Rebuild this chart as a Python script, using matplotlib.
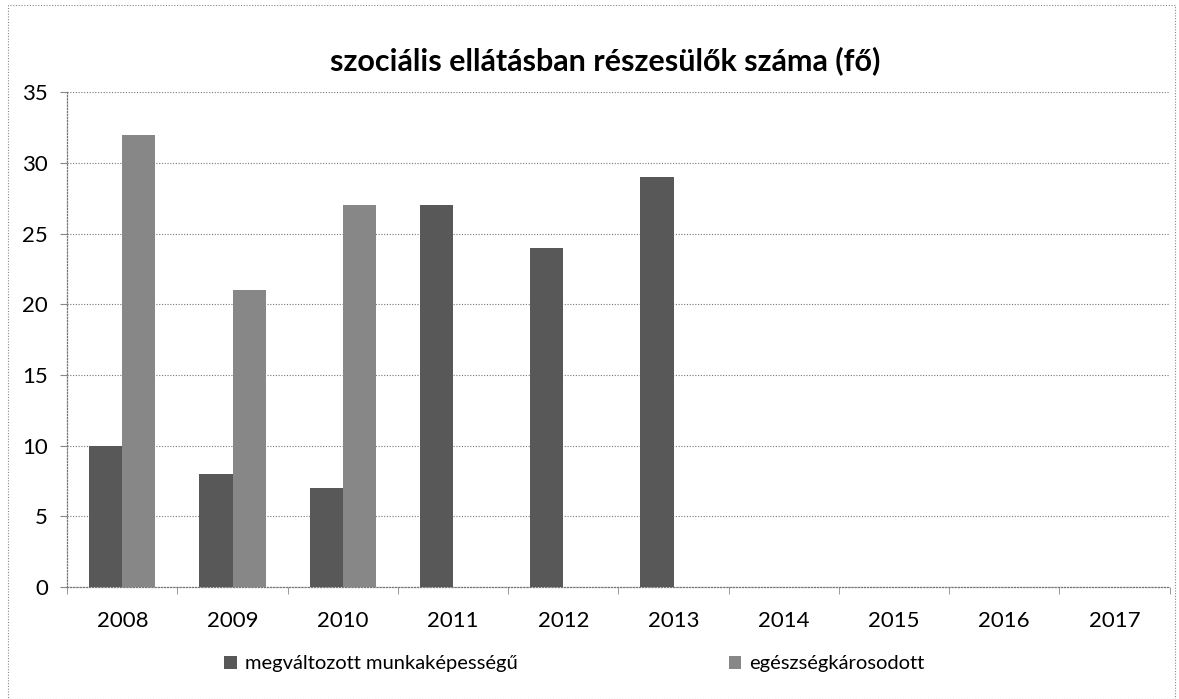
import numpy as np
import matplotlib.pyplot as plt
from matplotlib.patches import Rectangle

plt.rcParams['font.family'] = ['Lato', 'DejaVu Sans']

years = ['2008', '2009', '2010', '2011', '2012', '2013', '2014', '2015', '2016', '2017']
megvaltozott = [10, 8, 7, 27, 24, 29, 0, 0, 0, 0]
egeszseg = [32, 21, 27, 0, 0, 0, 0, 0, 0, 0]
yticks = [0, 5, 10, 15, 20, 25, 30, 35]

fig = plt.figure(figsize=(11.79, 6.99), dpi=100)
ax = fig.add_axes([0.057, 0.160, 0.935, 0.708])

x = np.arange(len(years))
w = 0.3
ax.bar(x - w / 2, megvaltozott, w, color='#585858', label='megváltozott munkaképességű', zorder=3)
ax.bar(x + w / 2, egeszseg, w, color='#878787', label='egészségkárosodott', zorder=3)

ax.set_xlim(-0.5, len(years) - 0.5)
ax.set_ylim(0, 35)
ax.set_yticks(yticks)
ax.set_xticks(x)
ax.set_xticklabels(years)
ax.set_xticks(np.arange(-0.5, len(years), 1), minor=True)
ax.tick_params(axis='x', which='major', length=0, pad=17, labelsize=16)
ax.tick_params(axis='x', which='minor', length=5, color='#888888')
ax.tick_params(axis='y', length=5, color='#888888', pad=9, labelsize=16)

ax.grid(axis='y', color='#777777', linestyle=(0, (1, 1.5)), linewidth=0.8, zorder=0)
for s in ['top', 'right']:
    ax.spines[s].set_visible(False)
for s in ['left', 'bottom']:
    ax.spines[s].set_color('#777777')
    ax.spines[s].set_linestyle((0, (1, 1.5)))
    ax.spines[s].set_linewidth(0.9)

fig.text(0.513, 0.913, 'szociális ellátásban részesülők száma (fő)', ha='center', va='center',
         fontsize=22, fontweight='bold')

ax.legend(loc='center', bbox_to_anchor=(0.46, -0.155), ncol=2, frameon=False,
          fontsize=14.5, handlelength=0.6, handleheight=0.6, columnspacing=10.5, handletextpad=0.4)

fig.patches.append(Rectangle((0.007, 0.0), 0.99, 0.993, transform=fig.transFigure, fill=False,
                             edgecolor='#888888', linestyle=(0, (1, 1.5)), linewidth=0.8))

fig.savefig('out.png', dpi=100)
